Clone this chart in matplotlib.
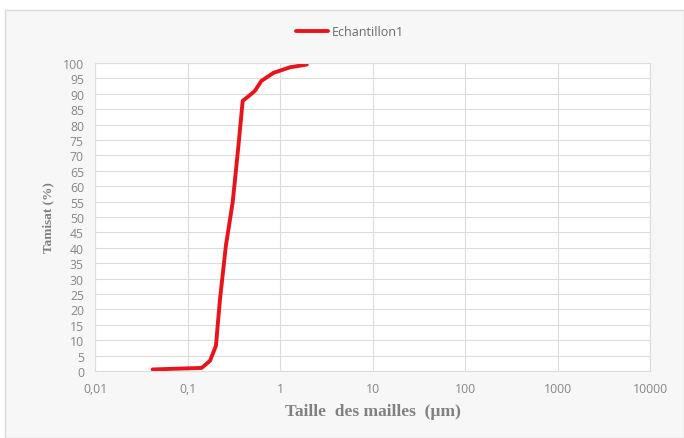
import matplotlib
matplotlib.use("Agg")
import matplotlib.pyplot as plt
from matplotlib.patches import Rectangle
from matplotlib.ticker import FixedLocator, FixedFormatter

# Courbe granulométrique (tamisat cumulé)
taille_um = [0.042, 0.142, 0.175, 0.203, 0.224, 0.26, 0.308, 0.355, 0.395,
             0.474, 0.537, 0.63, 0.85, 1.28, 1.95]
tamisat = [0.5, 1.0, 3.3, 8.2, 23, 40.7, 54.8, 73, 87.7,
           89.6, 91, 94.2, 96.8, 98.6, 99.5]

x_ticks = [0.01, 0.1, 1, 10, 100, 1000, 10000]
x_labels = ["0,01", "0,1", "1", "10", "100", "1000", "10000"]
y_ticks = list(range(0, 101, 5))

W, H = 684, 439
fig = plt.figure(figsize=(W / 100, H / 100), dpi=100)
fig.patch.set_facecolor("white")

# cadre du graphique
fig.patches.append(Rectangle((5 / W, 0), 1 - 5 / W, 1 - 11 / H, transform=fig.transFigure,
                             facecolor="#f7f7f7", edgecolor="#d9d9d9", lw=1, zorder=-10))

ax = fig.add_axes([95 / W, 1 - 372 / H, (650 - 95) / W, (372 - 64) / H])
ax.set_facecolor("white")
ax.plot(taille_um, tamisat, color="#e8141c", lw=2.8, label="Echantillon1",
        solid_capstyle="round", solid_joinstyle="round")

ax.set_xscale("log")
ax.set_xlim(0.01, 10000)
ax.set_ylim(0, 100)
ax.xaxis.set_major_locator(FixedLocator(x_ticks))
ax.xaxis.set_major_formatter(FixedFormatter(x_labels))
ax.xaxis.set_minor_locator(FixedLocator([]))
ax.set_yticks(y_ticks)

ax.grid(True, color="#dcdcdc", lw=0.8)
ax.set_axisbelow(True)
for s in ax.spines.values():
    s.set_color("#dcdcdc")
    s.set_linewidth(0.8)
ax.tick_params(length=0, colors="#868686", labelsize=8.8, pad=8)
for lab in ax.get_xticklabels() + ax.get_yticklabels():
    lab.set_fontfamily("Open Sans")

ax.set_xlabel("Taille  des mailles  (µm)", fontfamily="Liberation Serif",
              fontweight="bold", fontsize=12.5, color="#808080", labelpad=6)
ax.set_ylabel("Tamisat (%)", fontfamily="Liberation Serif", fontweight="bold",
              fontsize=9.5, color="#808080", labelpad=6)

leg = ax.legend(loc="center", bbox_to_anchor=(350 / W, 1 - 33 / H),
                bbox_transform=fig.transFigure, frameon=False,
                prop={"family": "Open Sans", "size": 9}, handlelength=2.6,
                handletextpad=0.3)
for t in leg.get_texts():
    t.set_color("#6a6a6a")

fig.savefig("out.png", dpi=100)
